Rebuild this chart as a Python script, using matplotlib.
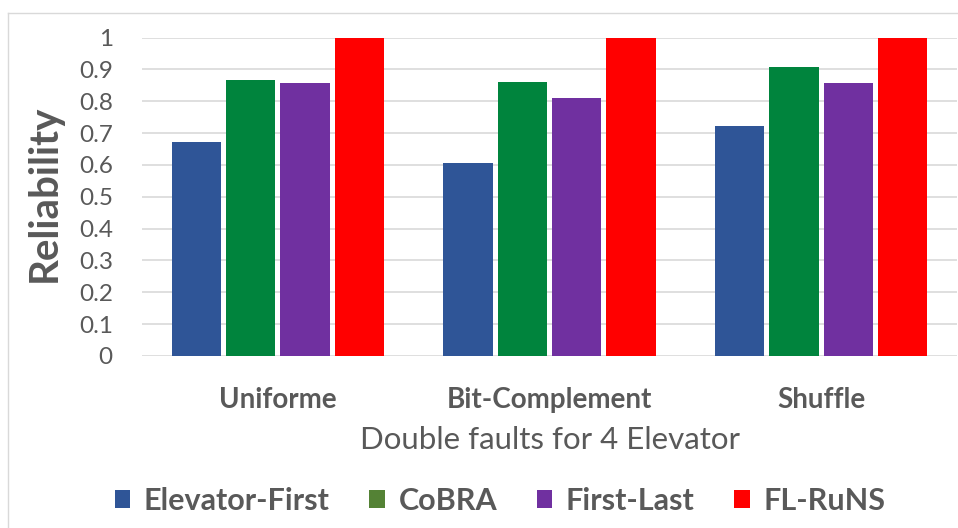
import matplotlib
matplotlib.use("Agg")
import matplotlib.pyplot as plt
from matplotlib.patches import Patch
from matplotlib.lines import Line2D
import numpy as np

categories = ["Uniforme", "Bit-Complement", "Shuffle"]
series_names = ["Elevator-First", "CoBRA", "First-Last", "FL-RuNS"]
elevator_first = [0.673, 0.605, 0.721]
cobra = [0.867, 0.860, 0.907]
first_last = [0.856, 0.809, 0.857]
fl_runs = [1.0, 1.0, 1.0]
yticks = [0, 0.1, 0.2, 0.3, 0.4, 0.5, 0.6, 0.7, 0.8, 0.9, 1]
ytick_labels = ["0", "0.1", "0.2", "0.3", "0.4", "0.5", "0.6", "0.7", "0.8", "0.9", "1"]

bar_colors = ["#2F5597", "#00843D", "#7030A0", "#FF0000"]
legend_colors = ["#2F5597", "#548235", "#7030A0", "#FF0000"]
text_color = "#595959"

plt.rcParams['font.family'] = ['Lato', 'DejaVu Sans']

fig = plt.figure(figsize=(9.58, 5.28), dpi=100)
ax = fig.add_axes([142/958, 1-356/528, 815/958, (356-37.5)/528])

x = np.arange(len(categories))
series = [elevator_first, cobra, first_last, fl_runs]
offsets = [-0.3, -0.1, 0.1, 0.3]
for vals, off, c in zip(series, offsets, bar_colors):
    ax.bar(x + off, vals, width=0.182, color=c, zorder=3)

ax.set_xlim(-0.5, 2.5)
ax.set_ylim(0, 1)
ax.set_yticks(yticks)
ax.set_yticklabels(ytick_labels, fontsize=17.5, color=text_color)
ax.set_xticks(x)
ax.set_xticklabels(categories, fontsize=20, fontweight='bold', color=text_color)
ax.tick_params(axis='both', length=0)
ax.tick_params(axis='x', pad=22)
ax.tick_params(axis='y', pad=21)
ax.grid(axis='y', color='#D9D9D9', linewidth=1.2, zorder=0)
for s in ax.spines.values():
    s.set_visible(False)

ax.set_ylabel("Reliability", fontsize=29, fontweight='bold', color=text_color)
ax.yaxis.set_label_coords(-79/815, 0.51)
ax.set_xlabel("Double faults for 4 Elevator", fontsize=22.5, color=text_color, labelpad=10)

handles = [Patch(facecolor=c, label=n) for c, n in zip(legend_colors, series_names)]
fig.legend(handles=handles, loc='center', bbox_to_anchor=(0.522, 1-501/528), ncol=4,
           frameon=False, prop={'size': 22, 'weight': 'bold'}, labelcolor=text_color,
           handlelength=0.5, handleheight=0.5, handletextpad=0.45, columnspacing=1.3)

fig.add_artist(Line2D([8/958, 8/958], [0, 1-13/528], color='#D9D9D9', lw=1, transform=fig.transFigure))
fig.add_artist(Line2D([8/958, 1], [1-13/528, 1-13/528], color='#D9D9D9', lw=1, transform=fig.transFigure))

fig.savefig("out.png", dpi=100)
